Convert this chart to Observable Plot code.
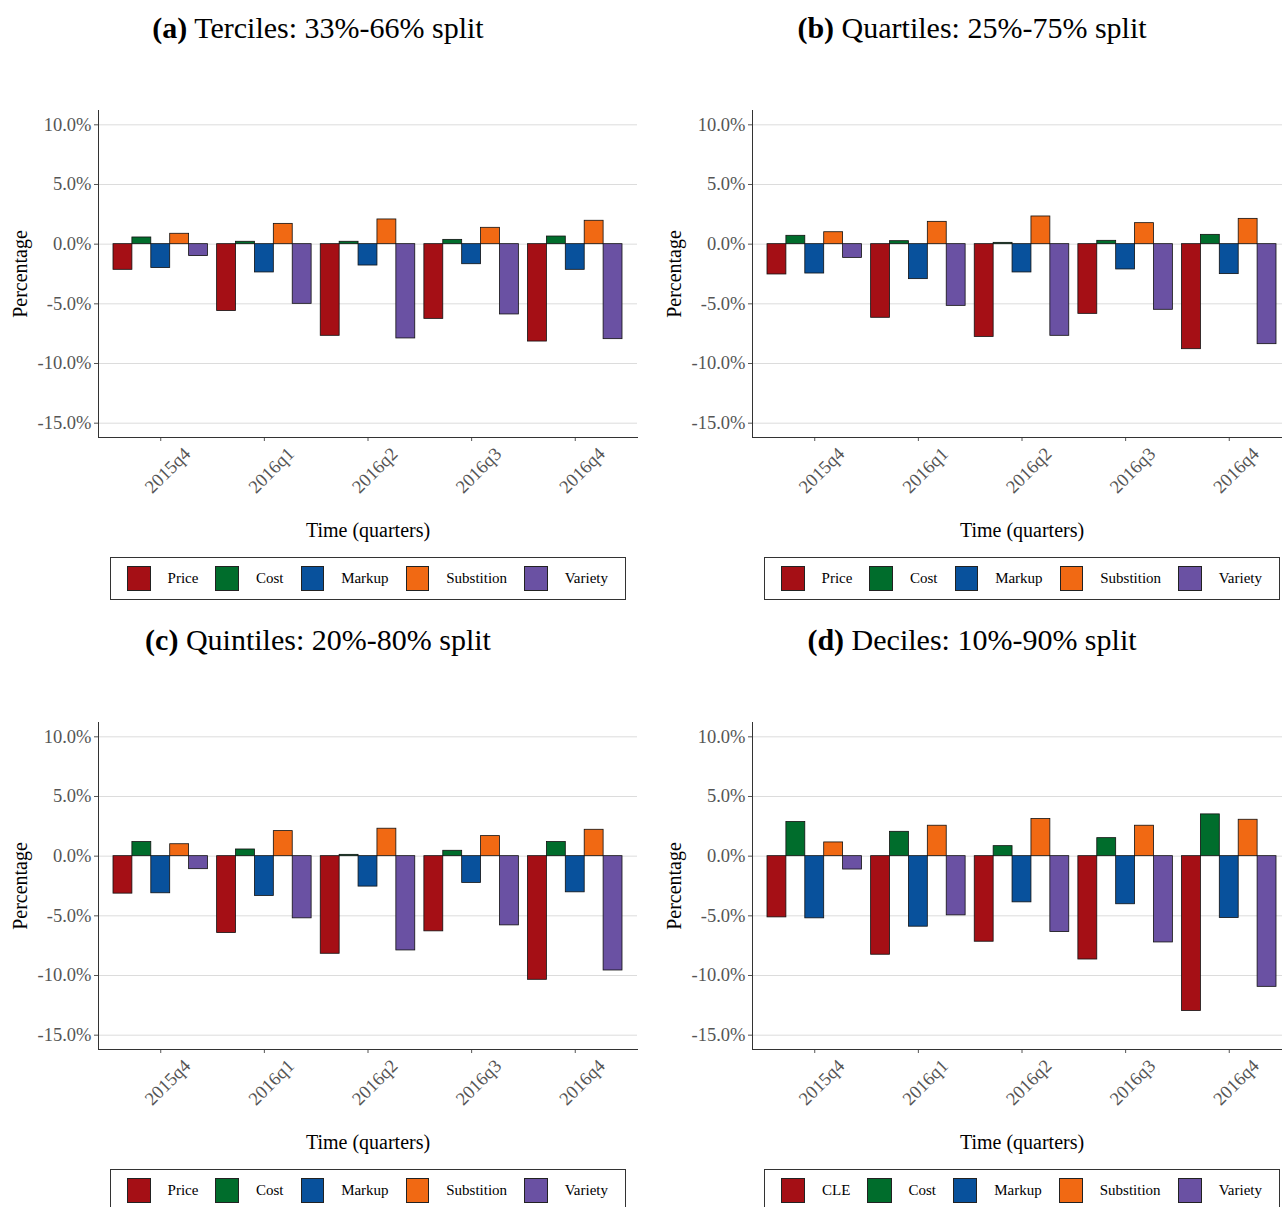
<!DOCTYPE html>
<html>
<head>
<meta charset="utf-8">
<script src="https://cdn.jsdelivr.net/npm/d3@7"></script>
<script src="https://cdn.jsdelivr.net/npm/@observablehq/plot@0.6"></script>
<style>
  html, body { margin: 0; padding: 0; background: #fff; }
  body { width: 1282px; height: 1207px; overflow: hidden; position: relative; font-family: "Liberation Serif", "DejaVu Serif", serif; }
  .panel { position: absolute; width: 641px; height: 612px; }
  .title { position: absolute; left: 0; width: 636px; top: 11px; text-align: center; font-size: 30px; color: #000; white-space: nowrap; }
  .title b { font-weight: bold; }
  .chart { position: absolute; left: 0; top: 100px; }
  .legend { position: absolute; left: 110px; top: 557px; width: 516px; height: 43px; border: 1px solid #333; display: flex; align-items: center; padding-left: 16px; box-sizing: border-box; }
  .legend .sw { width: 25px; height: 25px; border: 1px solid #222; box-sizing: border-box; margin-right: 17px; }
  .legend .lab { font-size: 15px; margin-right: 17px; color: #000; }
</style>
</head>
<body>
<script>
// ---- data ----
const quarters = ["2015q4", "2016q1", "2016q2", "2016q3", "2016q4"];
const seriesABC = ["Price", "Cost", "Markup", "Substition", "Variety"];
const seriesD = ["CLE", "Cost", "Markup", "Substition", "Variety"];
const colors = ["#a50f15", "#006d2c", "#08519c", "#f16913", "#6a51a3"];
const yTicks = [-15, -10, -5, 0, 5, 10];

// (a) Terciles
const aPrice = [-2.15, -5.60, -7.68, -6.26, -8.16];
const aCost = [0.56, 0.20, 0.20, 0.36, 0.64];
const aMarkup = [-2.00, -2.37, -1.79, -1.68, -2.15];
const aSubst = [0.87, 1.70, 2.07, 1.37, 1.96];
const aVariety = [-1.00, -5.00, -7.90, -5.89, -7.96];

// (b) Quartiles
const bPrice = [-2.54, -6.17, -7.77, -5.84, -8.80];
const bCost = [0.70, 0.25, 0.11, 0.28, 0.78];
const bMarkup = [-2.46, -2.93, -2.37, -2.12, -2.51];
const bSubst = [1.00, 1.87, 2.32, 1.76, 2.12];
const bVariety = [-1.15, -5.17, -7.68, -5.50, -8.38];

// (c) Quintiles
const cPrice = [-3.14, -6.44, -8.18, -6.30, -10.36];
const cCost = [1.18, 0.56, 0.11, 0.45, 1.18];
const cMarkup = [-3.11, -3.33, -2.55, -2.24, -3.03];
const cSubst = [1.00, 2.10, 2.30, 1.68, 2.21];
const cVariety = [-1.09, -5.21, -7.90, -5.80, -9.58];

// (d) Deciles
const dCLE = [-5.13, -8.26, -7.17, -8.66, -12.97];
const dCost = [2.86, 2.04, 0.84, 1.51, 3.50];
const dMarkup = [-5.21, -5.91, -3.87, -4.03, -5.18];
const dSubst = [1.15, 2.55, 3.11, 2.55, 3.05];
const dVariety = [-1.12, -4.96, -6.36, -7.23, -10.95];

const panels = [
  {tag: "(a)", text: " Terciles: 33%-66% split", names: seriesABC, values: [aPrice, aCost, aMarkup, aSubst, aVariety], left: 0, top: 0},
  {tag: "(b)", text: " Quartiles: 25%-75% split", names: seriesABC, values: [bPrice, bCost, bMarkup, bSubst, bVariety], left: 654, top: 0},
  {tag: "(c)", text: " Quintiles: 20%-80% split", names: seriesABC, values: [cPrice, cCost, cMarkup, cSubst, cVariety], left: 0, top: 612},
  {tag: "(d)", text: " Deciles: 10%-90% split", names: seriesD, values: [dCLE, dCost, dMarkup, dSubst, dVariety], left: 654, top: 612}
];

const W = 641, H = 450, mL = 98, mR = 4, mT = 10, mB = 113;
const padIn = 0.088, padOut = 0.1447;
const step = (W - mL - mR) / (quarters.length - padIn + 2 * padOut);
const bandW = step * (1 - padIn);

function chart(p) {
  const n = p.names.length;
  const bw = bandW / n;
  const rows = [];
  p.names.forEach((s, j) => p.values[j].forEach((v, i) => rows.push({quarter: quarters[i], series: s, j, value: v})));
  const bars = p.names.map((s, j) =>
    Plot.barY(rows.filter(r => r.j === j), {
      x: "quarter", y: "value", fill: colors[j], stroke: "#111", strokeWidth: 0.8,
      insetLeft: j * bw, insetRight: (n - 1 - j) * bw
    })
  );
  return Plot.plot({
    width: W, height: H,
    marginLeft: mL, marginRight: mR, marginTop: mT, marginBottom: mB,
    style: {fontFamily: "'Liberation Serif', 'DejaVu Serif', serif", background: "white"},
    x: {type: "band", domain: quarters, paddingInner: padIn, paddingOuter: padOut, align: 0.5, round: false, label: null},
    y: {domain: [-16.2, 11.2], label: null},
    marks: [
      Plot.gridY(yTicks, {stroke: "#dcdcdc", strokeOpacity: 1, strokeWidth: 1}),
      ...bars,
      Plot.axisY(yTicks, {tickSize: 4, tickPadding: 3, fontSize: 18.5, color: "#555", stroke: "#555",
        tickFormat: d => d.toFixed(1) + "%", label: null}),
      Plot.axisX({tickSize: 4, stroke: "#555", tickFormat: () => "", label: null}),
      Plot.text(quarters, {x: d => d, frameAnchor: "bottom", dy: 33, dx: 7, rotate: -45, fontSize: 18.5, fill: "#555",
        textAnchor: "middle", lineAnchor: "middle"}),
      Plot.text(["Time (quarters)"], {frameAnchor: "bottom", dy: 93, fontSize: 20, fill: "#000", textAnchor: "middle", lineAnchor: "middle"}),
      Plot.text(["Percentage"], {frameAnchor: "left", dx: -78, rotate: -90, fontSize: 20, fill: "#000", textAnchor: "middle", lineAnchor: "middle"}),
      Plot.frame({anchor: "left", stroke: "#333"}),
      Plot.frame({anchor: "bottom", stroke: "#333"})
    ]
  });
}

for (const p of panels) {
  const div = document.createElement("div");
  div.className = "panel";
  div.style.left = p.left + "px";
  div.style.top = p.top + "px";
  const t = document.createElement("div");
  t.className = "title";
  t.innerHTML = "<b>" + p.tag + "</b>" + p.text;
  div.appendChild(t);
  const c = document.createElement("div");
  c.className = "chart";
  c.appendChild(chart(p));
  div.appendChild(c);
  const lg = document.createElement("div");
  lg.className = "legend";
  p.names.forEach((s, j) => {
    const sw = document.createElement("div");
    sw.className = "sw";
    sw.style.background = colors[j];
    const lab = document.createElement("span");
    lab.className = "lab";
    lab.textContent = s;
    lg.appendChild(sw);
    lg.appendChild(lab);
  });
  div.appendChild(lg);
  document.body.appendChild(div);
}
</script>
</body>
</html>
